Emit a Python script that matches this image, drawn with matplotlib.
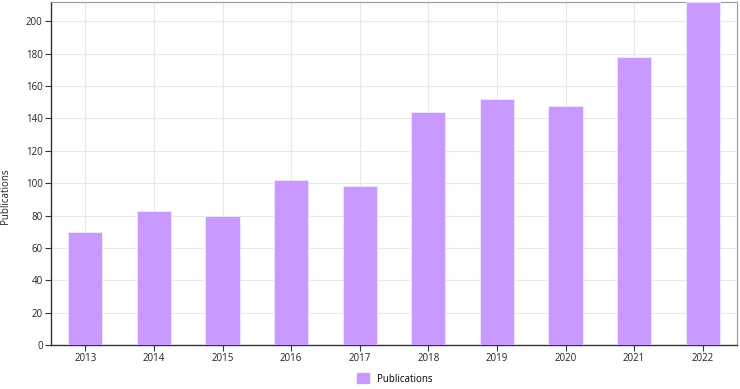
import matplotlib
matplotlib.use("Agg")
import matplotlib.pyplot as plt
from matplotlib.patches import Patch

years = ["2013", "2014", "2015", "2016", "2017", "2018", "2019", "2020", "2021", "2022"]
publications = [70, 83, 80, 102, 98, 144, 152, 148, 178, 212]

plt.rcParams['font.family'] = ['Open Sans', 'DejaVu Sans']
color = "#C899FF"

fig = plt.figure(figsize=(7.4, 3.89), dpi=100)
ax = fig.add_axes([51/740, 1 - 345/389, (737-51)/740, (345-2)/389])
x = list(range(len(years)))
ax.bar(x, publications, width=0.5, color=color, edgecolor="#f2e8ff", linewidth=0.6, zorder=3)
ax.set_xlim(-0.5, len(years) - 0.5)
ax.set_ylim(0, 212)
ax.set_xticks(x)
ax.set_xticklabels(years)
ax.set_yticks(range(0, 201, 20))
ax.tick_params(labelsize=7, length=4, width=0.8, color="#333333", labelcolor="#222222", pad=2)
ax.grid(True, color="#e8e8e8", linewidth=0.8, zorder=0)
ax.set_axisbelow(True)
for s in ["left", "bottom"]:
    ax.spines[s].set_color("#333333")
    ax.spines[s].set_linewidth(1.0)
for s in ["top", "right"]:
    ax.spines[s].set_color("#999999")
    ax.spines[s].set_linewidth(0.8)
ax.set_ylabel("Publications", fontsize=7, color="#222222")
ax.yaxis.set_label_coords((11 - 51) / 686, (345 - 196) / 343)
fig.legend(handles=[Patch(facecolor=color, edgecolor=color)], labels=["Publications"],
           loc="center", bbox_to_anchor=(395/740, 1 - 379/389), frameon=False,
           fontsize=7, handlelength=1.2, handleheight=1.2, handletextpad=0.9)
fig.savefig("out.png", dpi=100)
